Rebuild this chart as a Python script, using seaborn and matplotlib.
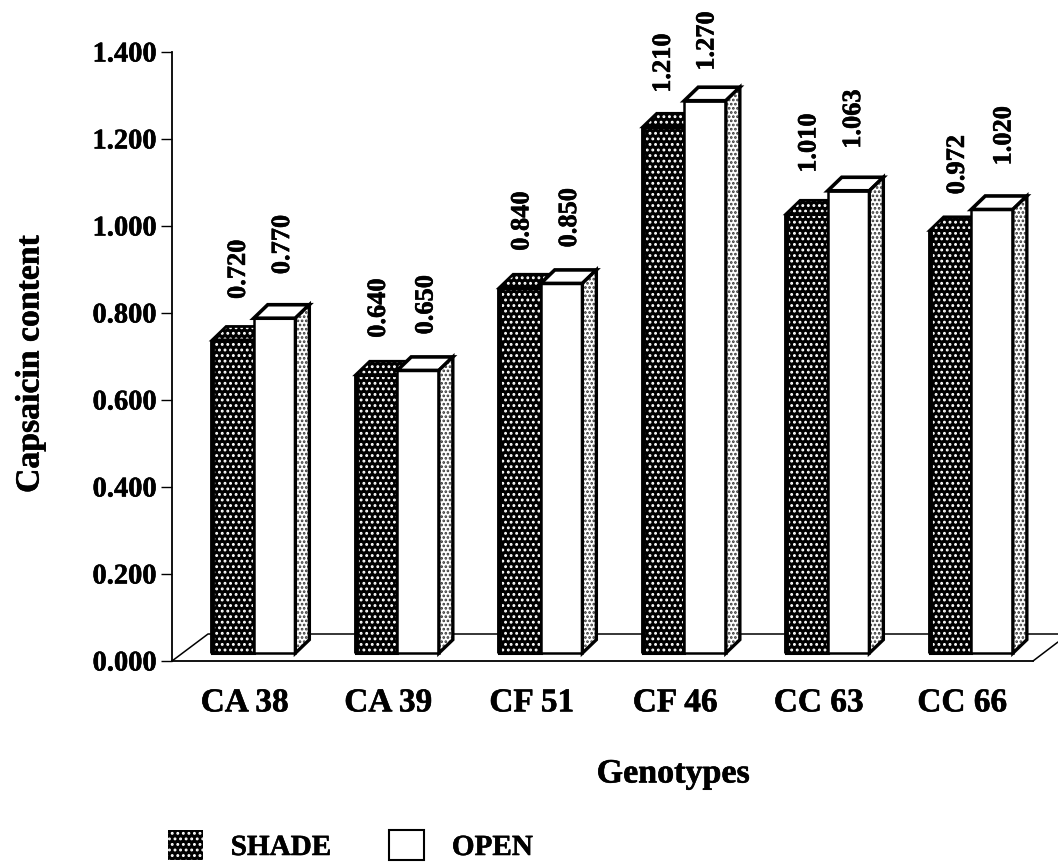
import pandas as pd
import numpy as np
import seaborn as sns
import matplotlib.pyplot as plt
import matplotlib.patheffects as pe
from matplotlib.patches import Patch, Polygon, Rectangle
from matplotlib.text import Text

genotypes = ['CA 38', 'CA 39', 'CF 51', 'CF 46', 'CC 63', 'CC 66']
shade = [0.720, 0.640, 0.840, 1.210, 1.010, 0.972]
open_ = [0.770, 0.650, 0.850, 1.270, 1.063, 1.020]
y_ticks = [0.0, 0.2, 0.4, 0.6, 0.8, 1.0, 1.2, 1.4]

# label nudges in pixels from top centre of each bar
shade_dx = [4.5, 1, 1, -1, 1, 6]
shade_dy = [42, 38, 38, 35, 42, 37]
open_dx = [7, 7, 7, 1, 4, 11]
open_dy = [45, 37, 37, 31, 43, 45]

sns.set_style('white')
plt.rcParams['font.family'] = ['Liberation Serif', 'DejaVu Serif']
plt.rcParams['font.weight'] = 'bold'
plt.rcParams['text.color'] = 'black'
plt.rcParams['axes.labelcolor'] = 'black'
plt.rcParams['xtick.labelcolor'] = 'black'
plt.rcParams['ytick.labelcolor'] = 'black'
plt.rcParams['hatch.linewidth'] = 1.3

W, H = 1058, 865
fig = plt.figure(figsize=(W / 100, H / 100), dpi=100)
ax = fig.add_axes([172 / W, (H - 661) / H, 861 / W, 609 / H])

df = pd.DataFrame({'genotype': genotypes * 2,
                   'value': shade + open_,
                   'group': ['SHADE'] * 6 + ['OPEN'] * 6})
base = 0.018
sns.barplot(data=df, x='genotype', y='value', hue='group', palette=['black', 'white'],
            saturation=1, width=0.58, gap=0, legend=False, errorbar=None, bottom=base,
            edgecolor='black', linewidth=1.8, ax=ax)

shift = 10 / 143.5
ax.set_xlim(-0.5 - shift, 5.5 - shift)
ax.set_ylim(0, 1.4)
px_x = 6.0 / 861  # one pixel in data units
px_y = 1.4 / 609
dx, dy = 14 * px_x, 13.5 * px_y

# floor of the 3d box
fx0 = ax.get_xlim()[0]
fx1 = ax.get_xlim()[1]
fd_x, fd_y = 36 * px_x, 27 * px_y
ax.plot([fx0, fx0 + fd_x, fx1 + 25 * px_x], [0, fd_y, fd_y], color='black', lw=1.1,
        clip_on=False, zorder=1)
ax.plot([fx1, fx1 + 25 * px_x], [0, 19 * px_y], color='black', lw=1.1, clip_on=False, zorder=1)

shade_bars, open_bars = ax.containers[0], ax.containers[1]
for p in shade_bars:
    x0, w, h = p.get_x(), p.get_width(), p.get_height()
    top = base + h
    # dotted front, outline drawn on its own because hatch takes the edge colour
    p.set_facecolor('black')
    p.set_edgecolor('white')
    p.set_hatch('...')
    p.set_linewidth(0)
    p.set_zorder(3)
    ax.add_patch(Rectangle((x0, base), w, h, fill=False, ec='black', lw=2.2, zorder=3.1))
    top_pts = [(x0, top), (x0 + dx, top + dy), (x0 + w + dx, top + dy), (x0 + w, top)]
    ax.add_patch(Polygon(top_pts, fc='black', ec='white', hatch='...', lw=0, clip_on=False, zorder=2.5))
    ax.add_patch(Polygon(top_pts, fill=False, ec='black', lw=2, clip_on=False, zorder=2.6))
    ax.plot([x0, x0], [base, top], color='black', lw=3.5, zorder=3.2, solid_capstyle='butt')

for p in open_bars:
    x0, w, h = p.get_x(), p.get_width(), p.get_height()
    top = base + h
    p.set_zorder(4)
    ax.add_patch(Polygon([(x0, top), (x0 + dx, top + dy), (x0 + w + dx, top + dy), (x0 + w, top)],
                         fc='white', ec='black', lw=2.6, clip_on=False, zorder=4))
    side = [(x0 + w, base), (x0 + w + dx, base + dy), (x0 + w + dx, top + dy), (x0 + w, top)]
    ax.add_patch(Polygon(side, fc='white', ec='#333333', hatch='....', lw=0, clip_on=False, zorder=4))
    ax.add_patch(Polygon(side, fill=False, ec='black', lw=2.4, clip_on=False, zorder=4.1))

# value labels
for bars, vals, ddx, ddy in [(shade_bars, shade, shade_dx, shade_dy), (open_bars, open_, open_dx, open_dy)]:
    for p, v, a, b in zip(bars, vals, ddx, ddy):
        ax.annotate(f'{v:.3f}', (p.get_x() + p.get_width() / 2, base + p.get_height()),
                    xytext=((a + 1) * 0.72, (b - 1) * 0.72), textcoords='offset points', rotation=90,
                    ha='center', va='bottom', fontsize=19, fontweight='bold',
                    annotation_clip=False, zorder=5)

sns.despine(ax=ax, top=True, right=True)
for s in ['left', 'bottom']:
    ax.spines[s].set_color('black')
    ax.spines[s].set_linewidth(1.3)

ax.set_yticks(y_ticks)
ax.set_yticklabels([f'{t:.3f}' for t in y_ticks])
ax.set_xticks(np.arange(6) - 9 / 143.5)
ax.set_xticklabels(genotypes)
ax.tick_params(axis='y', left=True, length=8, width=1, pad=3, labelsize=20.5, color='black')
ax.tick_params(axis='x', bottom=False, length=0, pad=19, labelsize=24)

ax.set_xlabel('Genotypes', fontsize=24.5, fontweight='bold', va='center')
ax.set_ylabel('Capsaicin content', fontsize=24.3, fontweight='bold', va='center')
ax.xaxis.set_label_coords((673 - 172) / 861, -(774 - 661) / 609)
ax.yaxis.set_label_coords(-(172 - 30) / 861, (661 - 364) / 609)

handles = [Patch(fc='black', ec='white', hatch='...', lw=0, label='SHADE'),
           Patch(fc='white', ec='black', lw=1.5, label='OPEN')]
ax.legend(handles=handles, ncol=2, frameon=False, fontsize=21, loc='lower left',
          bbox_to_anchor=(168 / W, (H - 861) / H), bbox_transform=fig.transFigure,
          borderpad=0, borderaxespad=0, handlelength=1.2, handleheight=1.2,
          handletextpad=0.95, columnspacing=2.0)

# scanned print looks heavier than the plain font
for t in fig.findobj(Text):
    t.set_path_effects([pe.withStroke(linewidth=0.4, foreground='black')])

fig.savefig('out.png', dpi=100)
